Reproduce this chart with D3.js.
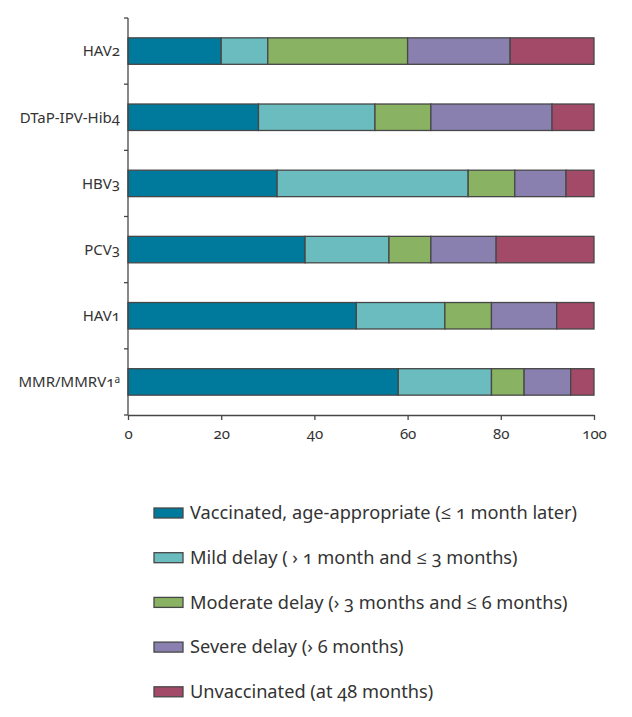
<!DOCTYPE html>
<html><head><meta charset="utf-8">
<script src="https://cdn.jsdelivr.net/npm/d3@7"></script>
<style>
body{margin:0;background:#fff;}
text{font-family:"Noto Sans","Open Sans",sans-serif;fill:#333;font-variant-numeric:oldstyle-nums;font-feature-settings:"onum" 1;}
</style></head>
<body><svg id="c" width="632" height="717"></svg>
<script>
const categories = ["HAV2","DTaP-IPV-Hib4","HBV3","PCV3","HAV1","MMR/MMRV1"];
const categorySup = ["","","","","","a"];
const seriesNames = [
  "Vaccinated, age-appropriate (≤ 1 month later)",
  "Mild delay ( › 1 month and ≤ 3 months)",
  "Moderate delay (› 3 months and ≤ 6 months)",
  "Severe delay (› 6 months)",
  "Unvaccinated (at 48 months)"
];
const ageAppropriate = [20, 28, 32, 38, 49, 58];
const mildDelay      = [10, 25, 41, 18, 19, 20];
const moderateDelay  = [30, 12, 10,  9, 10,  7];
const severeDelay    = [22, 26, 11, 14, 14, 10];
const unvaccinated   = [18,  9,  6, 21,  8,  5];
const xTicks = [0, 20, 40, 60, 80, 100];
const colors = ["#007a9c","#6bbcbf","#89b262","#8a80b0","#a34a69"];

const series = [ageAppropriate, mildDelay, moderateDelay, severeDelay, unvaccinated];
const rows = categories.map((c,i)=>{const o={cat:c}; seriesNames.forEach((s,j)=>o[s]=series[j][i]); return o;});
const stacked = d3.stack().keys(seriesNames)(rows);

const svg = d3.select("#c");
const x = d3.scaleLinear().domain([0,100]).range([128,594]);
const y = d3.scaleBand().domain(categories).range([18,415]).paddingInner(0.6).paddingOuter(0.3);

// bars
svg.append("g").selectAll("g").data(stacked).join("g")
  .attr("fill",(d,i)=>colors[i])
  .selectAll("rect").data(d=>d).join("rect")
  .attr("x",d=>x(d[0])).attr("width",d=>x(d[1])-x(d[0]))
  .attr("y",d=>y(d.data.cat)).attr("height",y.bandwidth())
  .attr("stroke","#474747").attr("stroke-width",1.3);

// y axis line with boundary ticks
const ya = svg.append("g").attr("stroke","#474747").attr("stroke-width",1.3);
ya.append("line").attr("x1",x(0)).attr("x2",x(0)).attr("y1",y.range()[0]).attr("y2",y.range()[1]);
const b0 = y.range()[0];
for(let i=0;i<=categories.length;i++){
  const yy = b0 + i*y.step();
  ya.append("line").attr("x1",x(0)-4).attr("x2",x(0)).attr("y1",yy).attr("y2",yy);
}
// labels
const lab = svg.append("g");
categories.forEach((c,i)=>{
  const t = lab.append("text").attr("x",120).attr("y",y(c)+y.bandwidth()/2).attr("dy","0.35em")
    .attr("text-anchor","end").style("font-size","15px");
  t.append("tspan").text(c);
  if(categorySup[i]) t.append("tspan").attr("dy","-0.45em").style("font-size","10px").text(categorySup[i]);
});

// x axis
const xa = svg.append("g").attr("transform","translate(0,415)")
  .call(d3.axisBottom(x).tickValues(xTicks).tickSize(5).tickPadding(8).tickSizeOuter(0));
xa.select(".domain").attr("stroke","#474747").attr("stroke-width",1.3);
xa.selectAll(".tick line").attr("stroke","#474747").attr("stroke-width",1.3);
xa.selectAll(".tick text").style("font-size","15px").style("font-family","'Noto Sans',sans-serif").attr("fill","#333");

// legend
const lg = svg.append("g");
seriesNames.forEach((s,i)=>{
  const cy = 513 + i*44.7;
  lg.append("rect").attr("x",154).attr("y",cy-5).attr("width",29).attr("height",10)
    .attr("fill",colors[i]).attr("stroke","#474747").attr("stroke-width",1.3);
  lg.append("text").attr("x",190).attr("y",cy).attr("dy","0.35em").style("font-size","18.2px").text(s);
});
</script></body></html>
